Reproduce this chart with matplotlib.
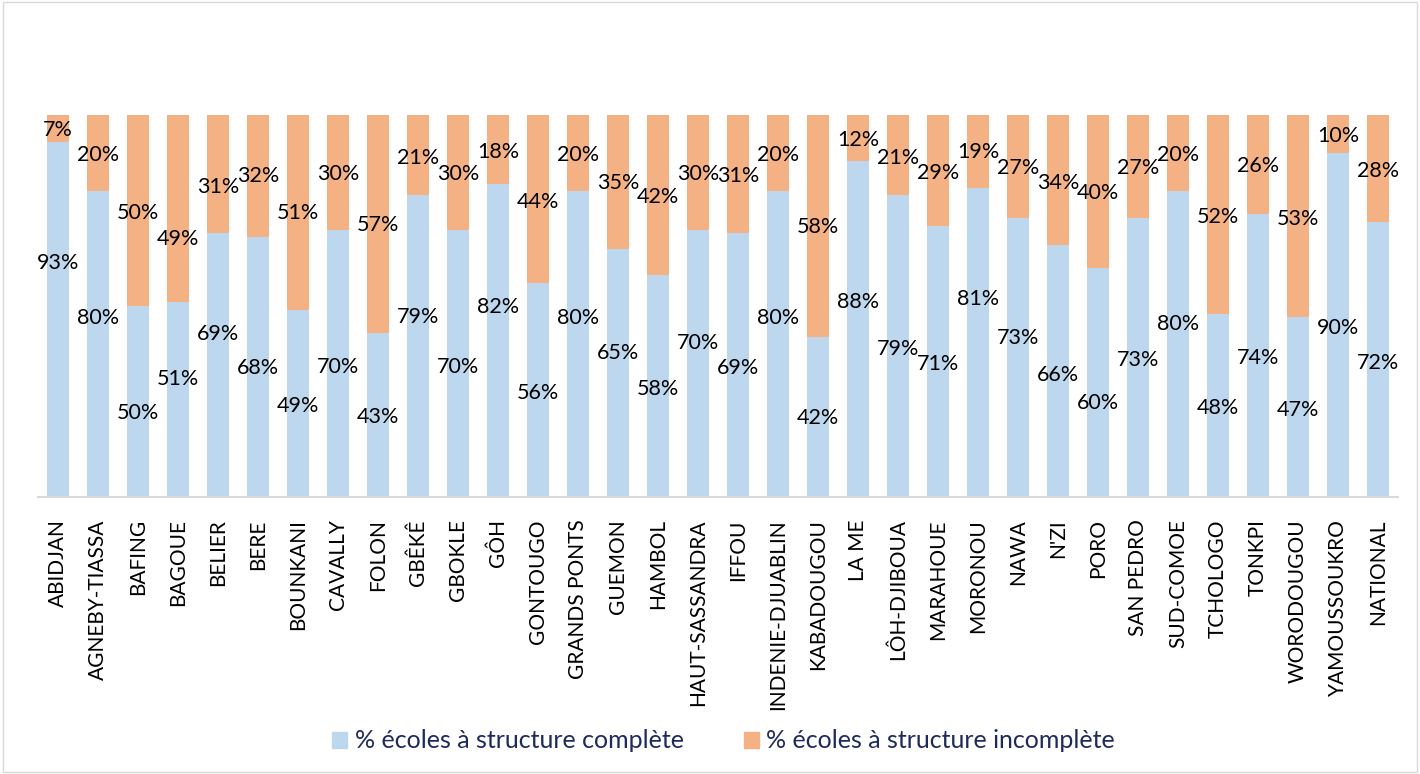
import numpy as np
import matplotlib.pyplot as plt
from matplotlib.patches import Rectangle, Patch

# ------ DATA ------
regions = ['ABIDJAN', 'AGNEBY-TIASSA', 'BAFING', 'BAGOUE', 'BELIER', 'BERE',
           'BOUNKANI', 'CAVALLY', 'FOLON', 'GBÊKÊ', 'GBOKLE', 'GÔH', 'GONTOUGO',
           'GRANDS PONTS', 'GUEMON', 'HAMBOL', 'HAUT-SASSANDRA', 'IFFOU',
           'INDENIE-DJUABLIN', 'KABADOUGOU', 'LA ME', 'LÔH-DJIBOUA', 'MARAHOUE',
           'MORONOU', 'NAWA', "N'ZI", 'PORO', 'SAN PEDRO', 'SUD-COMOE',
           'TCHOLOGO', 'TONKPI', 'WORODOUGOU', 'YAMOUSSOUKRO', 'NATIONAL']
complete = [93, 80, 50, 51, 69, 68, 49, 70, 43, 79, 70, 82, 56, 80, 65, 58, 70,
            69, 80, 42, 88, 79, 71, 81, 73, 66, 60, 73, 80, 48, 74, 47, 90, 72]
incomplete = [7, 20, 50, 49, 31, 32, 51, 30, 57, 21, 30, 18, 44, 20, 35, 42, 30,
              31, 20, 58, 12, 21, 29, 19, 27, 34, 40, 27, 20, 52, 26, 53, 10, 28]

series_names = ['% écoles à structure complète', '% écoles à structure incomplète']

# ------ LABEL PLACEMENT (labels were moved by hand in the original, % of bar height) ------
lab_y_complete = [61.3, 46.9, 22.0, 30.9, 42.7, 33.8, 23.8, 34.0, 20.9, 47.1, 34.0,
                  49.7, 27.2, 46.9, 37.7, 28.3, 40.3, 33.8, 46.9, 20.7, 51.0, 38.7,
                  34.8, 51.8, 41.6, 31.9, 24.6, 35.9, 45.3, 23.3, 36.4, 22.8, 44.2, 35.1]
lab_y_incomplete = [96.1, 89.5, 74.3, 67.5, 81.2, 84.0, 74.3, 84.6, 71.2, 88.7, 84.6,
                    90.3, 77.2, 89.5, 82.2, 78.5, 84.6, 84.0, 89.5, 70.7, 93.5, 88.7,
                    84.8, 90.3, 86.1, 82.2, 79.6, 86.1, 89.5, 73.3, 86.6, 72.8, 94.5, 85.3]

# ------ STYLE ------
c_blue = '#BDD7EE'
c_orange = '#F4B183'
plt.rcParams['font.family'] = ['Lato', 'DejaVu Sans']

fig = plt.figure(figsize=(14.2, 7.74), dpi=100)
ax = fig.add_axes([38 / 1420, 1 - 497 / 774, (1398 - 38) / 1420, (497 - 115) / 774])

x = np.arange(len(regions))
# Share of each part in the total bar (bars are 100% stacked)
tot = np.array(complete) + np.array(incomplete)
p1 = np.array(complete) / tot * 100
p2 = np.array(incomplete) / tot * 100

ax.bar(x, p1, width=0.57, color=c_blue, label=series_names[0])
ax.bar(x, p2, width=0.57, bottom=p1, color=c_orange, label=series_names[1])

for i in range(len(regions)):
    ax.text(x[i], lab_y_complete[i], f'{complete[i]}%', ha='center', va='center', fontsize=15.5)
    ax.text(x[i], lab_y_incomplete[i], f'{incomplete[i]}%', ha='center', va='center', fontsize=15.5)

ax.set_xlim(-0.5, len(regions) - 0.5)
ax.set_ylim(0, 100)
ax.set_yticks([])
ax.set_xticks(x)
ax.set_xticklabels(regions, rotation=90, fontsize=15)
ax.tick_params(axis='x', length=0, pad=16)
for s in ['top', 'right', 'left']:
    ax.spines[s].set_visible(False)
ax.spines['bottom'].set_color('#D9D9D9')
ax.spines['bottom'].set_linewidth(1.5)

# Legend
handles = [Patch(color=c_blue), Patch(color=c_orange)]
leg = fig.legend(handles, series_names, loc='center', bbox_to_anchor=(0.5095, 1 - 741 / 774),
                 ncol=2, frameon=False, fontsize=18, handlelength=0.6, handleheight=0.6,
                 handletextpad=0.3, columnspacing=2.4)
for t in leg.get_texts():
    t.set_color('#1F2A5C')

# Chart area border
fig.patches.append(Rectangle((0.002, 0.002), 0.996, 0.996, transform=fig.transFigure,
                             fill=False, edgecolor='#D9D9D9', lw=1))

fig.savefig('out.png', dpi=100)
